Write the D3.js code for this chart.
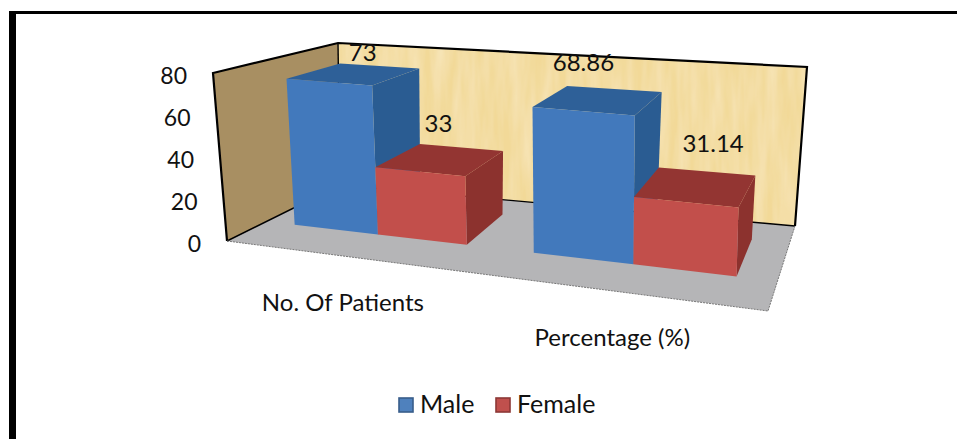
<!DOCTYPE html>
<html><head><meta charset="utf-8">
<script src="https://cdn.jsdelivr.net/npm/d3@7"></script>
<style>html,body{margin:0;padding:0;background:#fff}svg{display:block}text{font-family:Lato,"Noto Sans",sans-serif;fill:#111}</style>
</head><body><svg id="c" width="958" height="439"></svg>
<script>
const categories = ["No. Of Patients", "Percentage (%)"];
const seriesNames = ["Male", "Female"];
const male = [73, 68.86];
const female = [33, 31.14];
const maleLabels = ["73", "68.86"];
const femaleLabels = ["33", "31.14"];
const yTicks = [0, 20, 40, 60, 80];

// layout
const floor = {fl:[227,241], bl:[340,185], br:[795,226], fr:[768,311]};
const top80 = {fl:[213,73], bl:[338,43], br:[807,67], fr:[771,122]};
const colors = {
  Male:{front:"#4379BC", top:"#2F6198", side:"#2C5C92", sw:"#4F81BD", swb:"#385D8A"},
  Female:{front:"#C24F4B", top:"#933532", side:"#8C302E", sw:"#C0504D", swb:"#8C3836"}
};
const h = d3.scaleLinear().domain([0,80]).range([0,1]);
const bounds = [[0.055,0.218,0.392],[0.523,0.718,0.92]];
const v0 = 0.35, v1 = 0.8;
const labelOffsets = [[[-17,-15],[-23,-25]],[[-31,-28],[6,-29]]];

const lerp = (a,b,t)=>[a[0]+(b[0]-a[0])*t, a[1]+(b[1]-a[1])*t];
function bil(q,u,v){ return lerp(lerp(q.fl,q.bl,v), lerp(q.fr,q.br,v), u); }
function P(u,v,w){ return lerp(bil(floor,u,v), bil(top80,u,v), h(w)); }

const svg = d3.select("#c");
const defs = svg.append("defs");
const f = defs.append("filter").attr("id","soft").attr("x","-2%").attr("y","-2%").attr("width","104%").attr("height","104%");
f.append("feGaussianBlur").attr("stdDeviation",0.7);
const pf = defs.append("filter").attr("id","paper").attr("x",0).attr("y",0).attr("width","100%").attr("height","100%");
pf.append("feTurbulence").attr("type","fractalNoise").attr("baseFrequency","0.09 0.012").attr("numOctaves",3).attr("seed",4).attr("result","n");
pf.append("feColorMatrix").attr("in","n").attr("type","matrix").attr("values","0 0 0 0 1  0 0 0 0 0.93  0 0 0 0 0.75  0.55 0 0 0 -0.15").attr("result","c");
pf.append("feComposite").attr("in","c").attr("in2","SourceGraphic").attr("operator","in").attr("result","t");
pf.append("feMerge").selectAll("feMergeNode").data(["SourceGraphic","t"]).join("feMergeNode").attr("in",d=>d);

// frame
svg.append("rect").attr("x",9).attr("y",11).attr("width",7).attr("height",428).attr("fill","#000");
svg.append("rect").attr("x",9).attr("y",11).attr("width",948).attr("height",3).attr("fill","#000");

const line = d3.line();
const poly = (g,pts,fill)=>g.append("path").attr("d",line(pts)+"Z").attr("fill",fill);

const g = svg.append("g").attr("filter","url(#soft)");
// walls + floor
poly(g,[P(0,0,0),P(0,1,0),P(1,1,0),P(1,0,0)],"#B5B5B7");
poly(g,[P(0,1,0),P(1,1,0),P(1,1,80),P(0,1,80)],"#F2D998").attr("filter","url(#paper)");
poly(g,[P(0,0,0),P(0,1,0),P(0,1,80),P(0,0,80)],"#A88F62");
const stroke = (pts,w,dash)=>g.append("path").attr("d",line(pts)).attr("fill","none").attr("stroke","#000").attr("stroke-width",w).attr("stroke-dasharray",dash||null);
stroke([P(0,0,0),P(0,0,80),P(0,1,80),P(1,1,80),P(1,1,0)],2.2);
stroke([P(0,1,80),P(0,1,0)],1.4);
stroke([P(0,0,0),P(0,1,0),P(1,1,0)],1.4);
g.append("path").attr("d",line([P(0,0,0),P(1,0,0),P(1,1,0)])).attr("fill","none").attr("stroke","#777").attr("stroke-width",1).attr("stroke-dasharray","2 1");

// bars
function bar(u0,u1,val,c){
  poly(g,[P(u1,v0,0),P(u1,v1,0),P(u1,v1,val),P(u1,v0,val)],c.side);
  poly(g,[P(u0,v0,val),P(u1,v0,val),P(u1,v1,val),P(u0,v1,val)],c.top);
  poly(g,[P(u0,v0,0),P(u1,v0,0),P(u1,v0,val),P(u0,v0,val)],c.front);
}
categories.forEach((cat,i)=>{
  bar(bounds[i][0],bounds[i][1],male[i],colors.Male);
  bar(bounds[i][1],bounds[i][2],female[i],colors.Female);
});

// text
const txt = (x,y,s,size,anchor)=>svg.append("text").attr("x",x).attr("y",y).attr("font-size",size).attr("text-anchor",anchor||"middle").attr("dominant-baseline","central").text(s);
categories.forEach((cat,i)=>{
  [[male,maleLabels],[female,femaleLabels]].forEach(([vals,labs],s)=>{
    const a = P((bounds[i][s]+bounds[i][s+1])/2, v1, vals[i]);
    const o = labelOffsets[i][s];
    txt(a[0]+o[0], a[1]+o[1], labs[i], 24);
  });
  const p = P((bounds[i][0]+bounds[i][2])/2, 0, 0);
  txt(p[0]-5, p[1]+45, cat, 24);
});
yTicks.forEach(t=>{
  const p = P(0,0,t);
  txt(p[0]-26, p[1]+1.5, String(t), 23, "end");
});

// legend
const legendX = [398,495];
seriesNames.forEach((n,i)=>{
  const c = colors[n];
  svg.append("rect").attr("x",legendX[i]+1).attr("y",398).attr("width",14).attr("height",14).attr("fill",c.sw).attr("stroke",c.swb).attr("stroke-width",1.6);
  txt(legendX[i]+22,403,n,25,"start");
});
</script></body></html>
